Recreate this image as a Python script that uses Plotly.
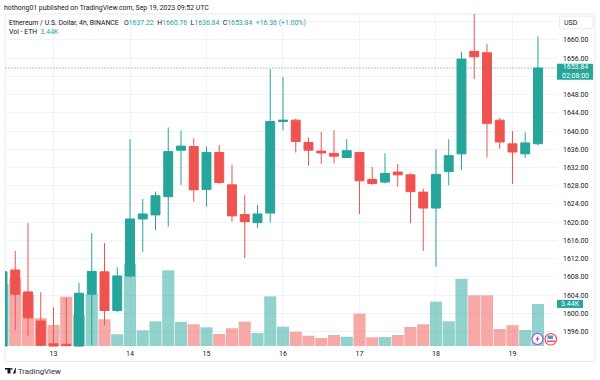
import plotly.graph_objects as go
import pandas as pd

GREEN = "#26a69a"
RED = "#ef5350"
TEXT = "#131722"
GRID = "#f0f3fa"
FONT = "Roboto"

opens = [1592.8,1609.5,1604.7,1598.3,1593.3,1593.2,1592.8,1604.2,1609.1,1600.6,1608.2,1620.7,1621.6,1625.6,1635.8,
         1636.6,1627.2,1635.3,1628.2,1621.7,1619.9,1622.0,1642.1,1642.4,1637.5,1635.6,1635.1,1634.2,1635.3,1629.4,
         1628.8,1631.0,1630.4,1626.6,1623.1,1631.1,1635.0,1657.5,1657.2,1642.4,1637.2,1635.0,1637.22]
highs = [1611.0,1613.7,1619.8,1604.6,1601.3,1603.4,1606.7,1617.6,1615.4,1610.1,1638.2,1625.1,1626.7,1640.8,1640.1,
         1638.4,1636.6,1636.9,1632.6,1625.9,1623.8,1653.6,1651.9,1642.7,1638.6,1639.8,1640.2,1638.2,1635.3,1632.1,
         1635.1,1632.8,1630.7,1627.4,1636.0,1638.2,1657.4,1667.0,1659.1,1642.9,1640.0,1639.7,1660.76]
lows = [1592.8,1596.3,1595.0,1592.8,1592.8,1592.8,1592.8,1593.0,1597.4,1600.2,1607.9,1613.5,1618.3,1619.0,1628.2,
        1624.5,1623.4,1628.4,1620.1,1612.1,1618.7,1619.9,1640.2,1635.3,1632.4,1632.8,1632.9,1634.1,1621.8,1628.2,
        1628.5,1627.8,1619.8,1613.7,1610.2,1628.1,1631.5,1651.4,1634.2,1636.1,1628.4,1634.1,1636.84]
closes = [1609.1,1604.2,1599.0,1593.0,1592.8,1592.9,1604.4,1609.2,1600.6,1608.2,1620.7,1621.8,1625.8,1635.5,1636.7,
          1627.1,1635.3,1628.7,1621.4,1620.1,1621.8,1642.1,1642.4,1637.7,1635.8,1635.2,1634.5,1635.7,1629.1,1628.5,
          1630.7,1630.4,1626.7,1623.1,1630.5,1634.6,1655.8,1656.3,1641.7,1637.6,1635.4,1637.4,1653.84]
volumes = [5.08,5.54,4.18,2.27,1.72,4.04,2.54,4.26,2.19,0.96,6.72,1.29,2.02,6.20,1.97,
           1.78,1.53,0.98,1.45,1.99,1.06,4.07,1.58,1.17,0.84,0.66,0.90,0.76,2.65,0.71,
           0.74,0.90,1.56,1.78,3.63,2.02,5.51,4.15,4.15,1.39,1.70,1.31,3.44]
times = pd.date_range("2023-09-12 08:00", periods=len(opens), freq="4h")
price_ticks = list(range(1596, 1668, 4))
price_labels = ["" if t == 1664 else f"{t:.2f}" for t in price_ticks]

W, H = 600, 380
L, R, T, B = 5, 557, 14.3, 347
def px(x): return (x - L) / (R - L)
def py(y): return (B - y) / (B - T)

vol_colors = ["rgba(38,166,154,0.5)" if c >= o else "rgba(239,83,80,0.5)" for o, c in zip(opens, closes)]

fig = go.Figure()
fig.add_trace(go.Bar(x=times, y=volumes, marker=dict(color=vol_colors, line=dict(width=0)), yaxis="y", showlegend=False))
fig.add_trace(go.Candlestick(x=times, open=opens, high=highs, low=lows, close=closes, yaxis="y2", showlegend=False,
                             increasing=dict(line=dict(color=GREEN, width=1), fillcolor=GREEN),
                             decreasing=dict(line=dict(color=RED, width=1), fillcolor=RED)))

def note(x, y, text, size=7.0, color=TEXT, anchor="left", family=FONT):
    fig.add_annotation(xref="paper", yref="paper", x=px(x), y=py(y), text=text, showarrow=False, xanchor=anchor,
                       yanchor="middle", font=dict(family=family, size=size, color=color), borderpad=0, borderwidth=0)

def paper_rect(x0, y0, x1, y1, **kw):
    fig.add_shape(type="rect", xref="paper", yref="paper", x0=px(x0), x1=px(x1), y0=py(y0), y1=py(y1), **kw)

# outer frame lines
for (x0, y0, x1, y1) in [(L, T, 595, T), (595, T, 595, 361.5), (L, 361.5, 595, 361.5), (L, T, L, 361.5)]:
    fig.add_shape(type="line", xref="paper", yref="paper", x0=px(x0), x1=px(x1), y0=py(y0), y1=py(y1),
                  line=dict(color="#e8ebf0", width=1), layer="below")

# last price line
fig.add_shape(type="line", xref="paper", yref="y2", x0=0, x1=1, y0=closes[-1], y1=closes[-1],
              line=dict(color=GREEN, width=1, dash="2px,1px"), opacity=0.45)

def g(s):
    return f"<span style='color:{GREEN}'>{s}</span>"

# header and legend
note(4, 8.5, "hothong01 published on TradingView.com, Sep 19, 2023 09:52 UTC", size=6.9)
note(8.5, 23, "Ethereum / U.S. Dollar, 4h, BINANCE\u00a0\u00a0\u00a0O" + g("1637.22") + "\u00a0\u00a0H" + g("1660.76")
     + "\u00a0\u00a0L" + g("1636.84") + "\u00a0\u00a0C" + g("1653.84") + "\u00a0\u00a0" + g("+16.36 (+1.00%)"), size=6.9)
note(8.5, 32, "Vol - ETH\u00a0\u00a0" + g("3.44K"), size=6.9)

# USD button
fig.add_shape(type="rect", xref="paper", yref="paper", x0=px(559.5), x1=px(593), y0=py(29), y1=py(16.5),
              line=dict(color="#e8ebf0", width=1), fillcolor="white")
note(571, 23, "USD", size=7, anchor="center")

# price tags
paper_rect(557, 64, 593, 80, fillcolor=GREEN, line=dict(width=0))
note(575, 72, "1653.84<br>02:08:00", size=7, color="white", anchor="center")
paper_rect(557, 300, 583, 308, fillcolor=GREEN, line=dict(width=0))
note(570, 304, "3.44K", size=7, color="white", anchor="center")

# event icons
fig.add_shape(type="circle", xref="paper", yref="paper", x0=px(532), x1=px(543), y0=py(344.5), y1=py(333.5),
              line=dict(color="#9c4fc4", width=1.2), fillcolor="white")
fig.add_shape(type="path", xref="paper", yref="paper",
              path=f"M {px(538.6)} {py(335.5)} L {px(535.6)} {py(339.6)} L {px(537.3)} {py(339.6)} L {px(536.4)} {py(342.6)} "
                   f"L {px(539.4)} {py(338.4)} L {px(537.7)} {py(338.4)} Z",
              fillcolor="#7e3fb0", line=dict(width=0))
fig.add_shape(type="circle", xref="paper", yref="paper", x0=px(545), x1=px(556.5), y0=py(345), y1=py(333.5),
              line=dict(color="#e8504a", width=1.2), fillcolor="white")
paper_rect(547, 340.5, 555, 342, fillcolor="#e8504a", line=dict(width=0))
paper_rect(547.5, 335.5, 553, 339, fillcolor="#5b8fe6", line=dict(width=0))

# TradingView mark
paper_rect(5, 368, 10.5, 369.6, fillcolor="#131722", line=dict(width=0))
paper_rect(7.5, 368, 10.5, 373.5, fillcolor="#131722", line=dict(width=0))
fig.add_shape(type="circle", xref="paper", yref="paper", x0=px(11), x1=px(12.6), y0=py(369.8), y1=py(368.1),
              fillcolor="#131722", line=dict(width=0))
fig.add_shape(type="path", xref="paper", yref="paper",
              path=f"M {px(12.8)} {py(373.5)} L {px(15.5)} {py(368)} L {px(16)} {py(368)} L {px(15.5)} {py(373.5)} Z",
              fillcolor="#131722", line=dict(width=0))
note(18, 371, "TradingView", size=7.8, color="#2a2e39")

fig.update_layout(
    width=W, height=H,
    margin=dict(l=L, r=W - R, t=T, b=H - B),
    paper_bgcolor="white", plot_bgcolor="white",
    font=dict(family=FONT, size=7, color=TEXT),
    showlegend=False, bargap=0.05, boxgap=0.0,
    xaxis=dict(type="date", range=["2023-09-12 08:47", "2023-09-19 13:58"], rangeslider=dict(visible=False),
               tickmode="linear", tick0="2023-09-13", dtick=86400000, tickformat="%-d",
               showgrid=True, gridcolor=GRID, gridwidth=1, showline=False, zeroline=False, ticks="",
               tickfont=dict(family=FONT, size=7, color=TEXT), ticklabelstandoff=1),
    yaxis=dict(range=[-0.082, 27.19], showgrid=False, zeroline=False, showticklabels=False, ticks="", showline=False),
    yaxis2=dict(overlaying="y", side="right", anchor="x", range=[1592.6, 1665.7], tickmode="array",
                tickvals=price_ticks, ticktext=price_labels, showgrid=True, gridcolor=GRID, gridwidth=1,
                zeroline=False, showline=False, ticks="", ticklabelstandoff=5,
                tickfont=dict(family=FONT, size=7, color=TEXT)),
)

fig.write_html("out.html", post_script="document.body.style.margin='0';", config={"displayModeBar": False})
